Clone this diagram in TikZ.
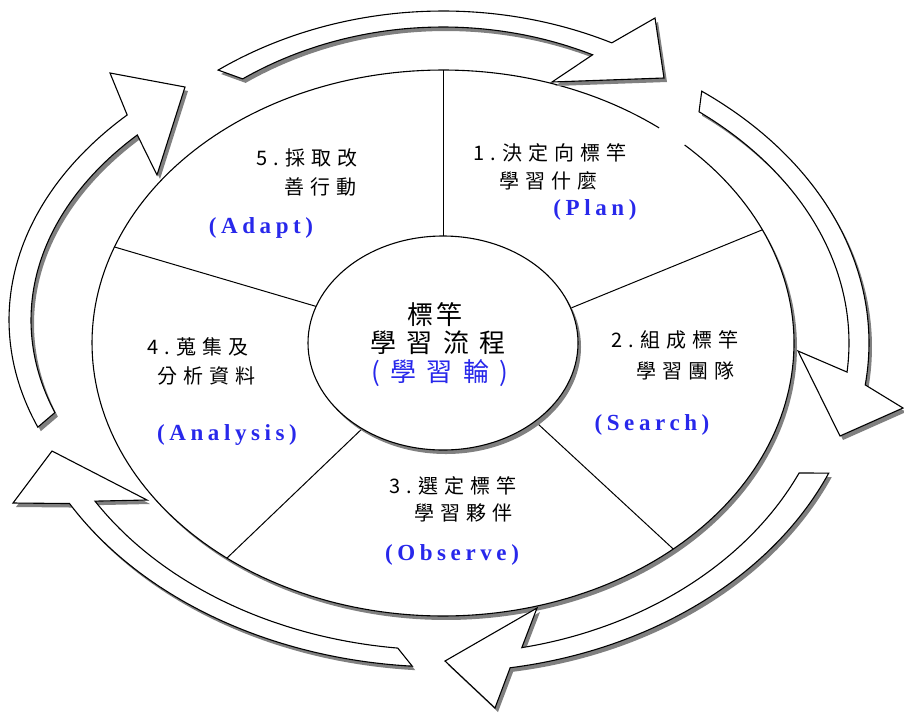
\documentclass[tikz,border=0pt]{standalone}
\usepackage{fontspec}
\setmainfont{Liberation Serif}
\newfontfamily\cjkA[LetterSpace=30]{Noto Sans CJK TC}
\newfontfamily\cjkB[LetterSpace=40]{Noto Sans CJK TC}
\newfontfamily\latB[LetterSpace=20]{Liberation Serif}
\definecolor{lblue}{RGB}{40,40,235}
\tikzset{
  shad/.style={fill=black!50},
  shp/.style={draw=black, fill=white, line width=1.1pt, line join=miter},
  spoke/.style={draw=black, line width=1pt},
  cjklab/.style={font={\cjkA\fontsize{20}{24}\selectfont}, inner sep=0pt, text=black},
  cenlab/.style={font={\cjkB\fontsize{26}{30}\selectfont}, inner sep=0pt, text=black},
  latlab/.style={font={\latB\bfseries\fontsize{23}{27}\selectfont}, inner sep=0pt, text=lblue},
  arrA/.style={insert path={plot[domain=-124.7:-64.7, samples=60, variable=\t] ({443+395*cos(\t)},{343+332*sin(\t)}) -- (655,18) -- (664,78) -- (552,82) -- plot[domain=-65.8:-123.3, samples=60, variable=\t] ({443+365*cos(\t)},{343+316*sin(\t)}) -- cycle}},
  arrB/.style={insert path={plot[domain=-52.6:7.6, samples=60, variable=\t] ({443+426*cos(\t)},{343+317*sin(\t)}) -- (903,408) -- (840,436) -- (798,351) -- plot[domain=5.6:-50.9, samples=60, variable=\t] ({443+406*cos(\t)},{343+298*sin(\t)}) -- cycle}},
  arrC/.style={insert path={plot[domain=23.3:80.8, samples=60, variable=\t] ({443+420*cos(\t)},{343+329*sin(\t)}) -- (495,708) -- (445,661) -- (537,608) -- plot[domain=78.4:24.7, samples=60, variable=\t] ({443+392*cos(\t)},{343+311*sin(\t)}) -- cycle}},
  arrE/.style={insert path={plot[domain=94.1:150.3, samples=60, variable=\t] ({443+430*cos(\t)},{343+324*sin(\t)}) -- (13,503) -- (52,451) -- (147,500) -- plot[domain=149:96.4, samples=60, variable=\t] ({443+406*cos(\t)},{343+307*sin(\t)}) -- cycle}},
  arrD/.style={insert path={plot[domain=159:223.3, samples=60, variable=\t] ({443+434*cos(\t)},{320+299*sin(\t)}) -- (110,73) -- (185,87) -- (157,175) -- plot[domain=222.1:160.4, samples=60, variable=\t] ({443+412*cos(\t)},{320+276*sin(\t)}) -- cycle}},
}
\begin{document}
\begin{tikzpicture}[x=1pt,y=-1pt]
\useasboundingbox[fill=white] (0,0) rectangle (904,713);
\coordinate (c) at (443,343);
% outer wheel
\fill[shad] plot[domain=0:360, samples=240, variable=\t] ({446+351*cos(\t)},{347+273*sin(\t)}) -- cycle;
\fill[white] plot[domain=0:360, samples=240, variable=\t] ({443+351*cos(\t)},{343+273*sin(\t)}) -- cycle;
\draw[line width=1.1pt] plot[domain=-46.5:308, samples=240, variable=\t] ({443+351*cos(\t)},{343+273*sin(\t)});
% spokes
\coordinate (i1) at ({443+135*cos(-90)},{343+107*sin(-90)});
\coordinate (o1) at ({443+351*cos(-90)},{343+273*sin(-90)});
\coordinate (i2) at ({443+135*cos(-19)},{343+107*sin(-19)});
\coordinate (o2) at ({443+351*cos(-24.5)},{343+273*sin(-24.5)});
\coordinate (i3) at ({443+135*cos(47)},{343+107*sin(47)});
\coordinate (o3) at ({443+351*cos(49)},{343+273*sin(49)});
\coordinate (i4) at ({443+135*cos(126.8)},{343+107*sin(126.8)});
\coordinate (o4) at ({443+351*cos(128)},{343+273*sin(128)});
\coordinate (i5) at ({443+135*cos(200)},{343+107*sin(200)});
\coordinate (o5) at ({443+351*cos(200.6)},{343+273*sin(200.6)});
\foreach \k in {1,...,5} {\draw[spoke] (i\k) -- (o\k);}
% hub
\fill[shad] (446,347) ellipse [x radius=135, y radius=107];
\draw[shp] (c) ellipse [x radius=135, y radius=107];
% arrows
\begin{scope}[shift={(3,4)}]
\fill[shad, arrA]; \fill[shad, arrB]; \fill[shad, arrC]; \fill[shad, arrE]; \fill[shad, arrD];
\end{scope}
\path[shp, arrA]; \path[shp, arrB]; \path[shp, arrC]; \path[shp, arrE]; \path[shp, arrD];
% labels
\node[cjklab] (t5a) at (307,158) {5.採取改};
\node[cjklab] (t5b) at (320,187) {善行動};
\node[latlab] (t5c) at (261,228) {(Adapt)};
\node[cjklab] (t1a) at (550,153) {1.決定向標竿};
\node[cjklab] (t1b) at (548,181) {學習什麼};
\node[latlab] (t1c) at (595,210) {(Plan)};
\node[cjklab] (t2a) at (675,340) {2.組成標竿};
\node[cjklab] (t2b) at (685,371) {學習團隊};
\node[latlab] (t2c) at (652,425) {(Search)};
\node[cjklab] (t3a) at (453,486) {3.選定標竿};
\node[cjklab] (t3b) at (463,513) {學習夥伴};
\node[latlab] (t3c) at (452,555) {(Observe)};
\node[cjklab] (t4a) at (198,347) {4.蒐集及};
\node[cjklab] (t4b) at (206,376) {分析資料};
\node[latlab] (t4c) at (227,435) {(Analysis)};
\node[cenlab] (h1) at (435,315) {標\hspace{4pt}竿};
\node[cenlab] (h2) at (438,343) {學習流程};
\node[cenlab, text=lblue] (h3) at (440,373) {(學習輪)};
\end{tikzpicture}
\end{document}
